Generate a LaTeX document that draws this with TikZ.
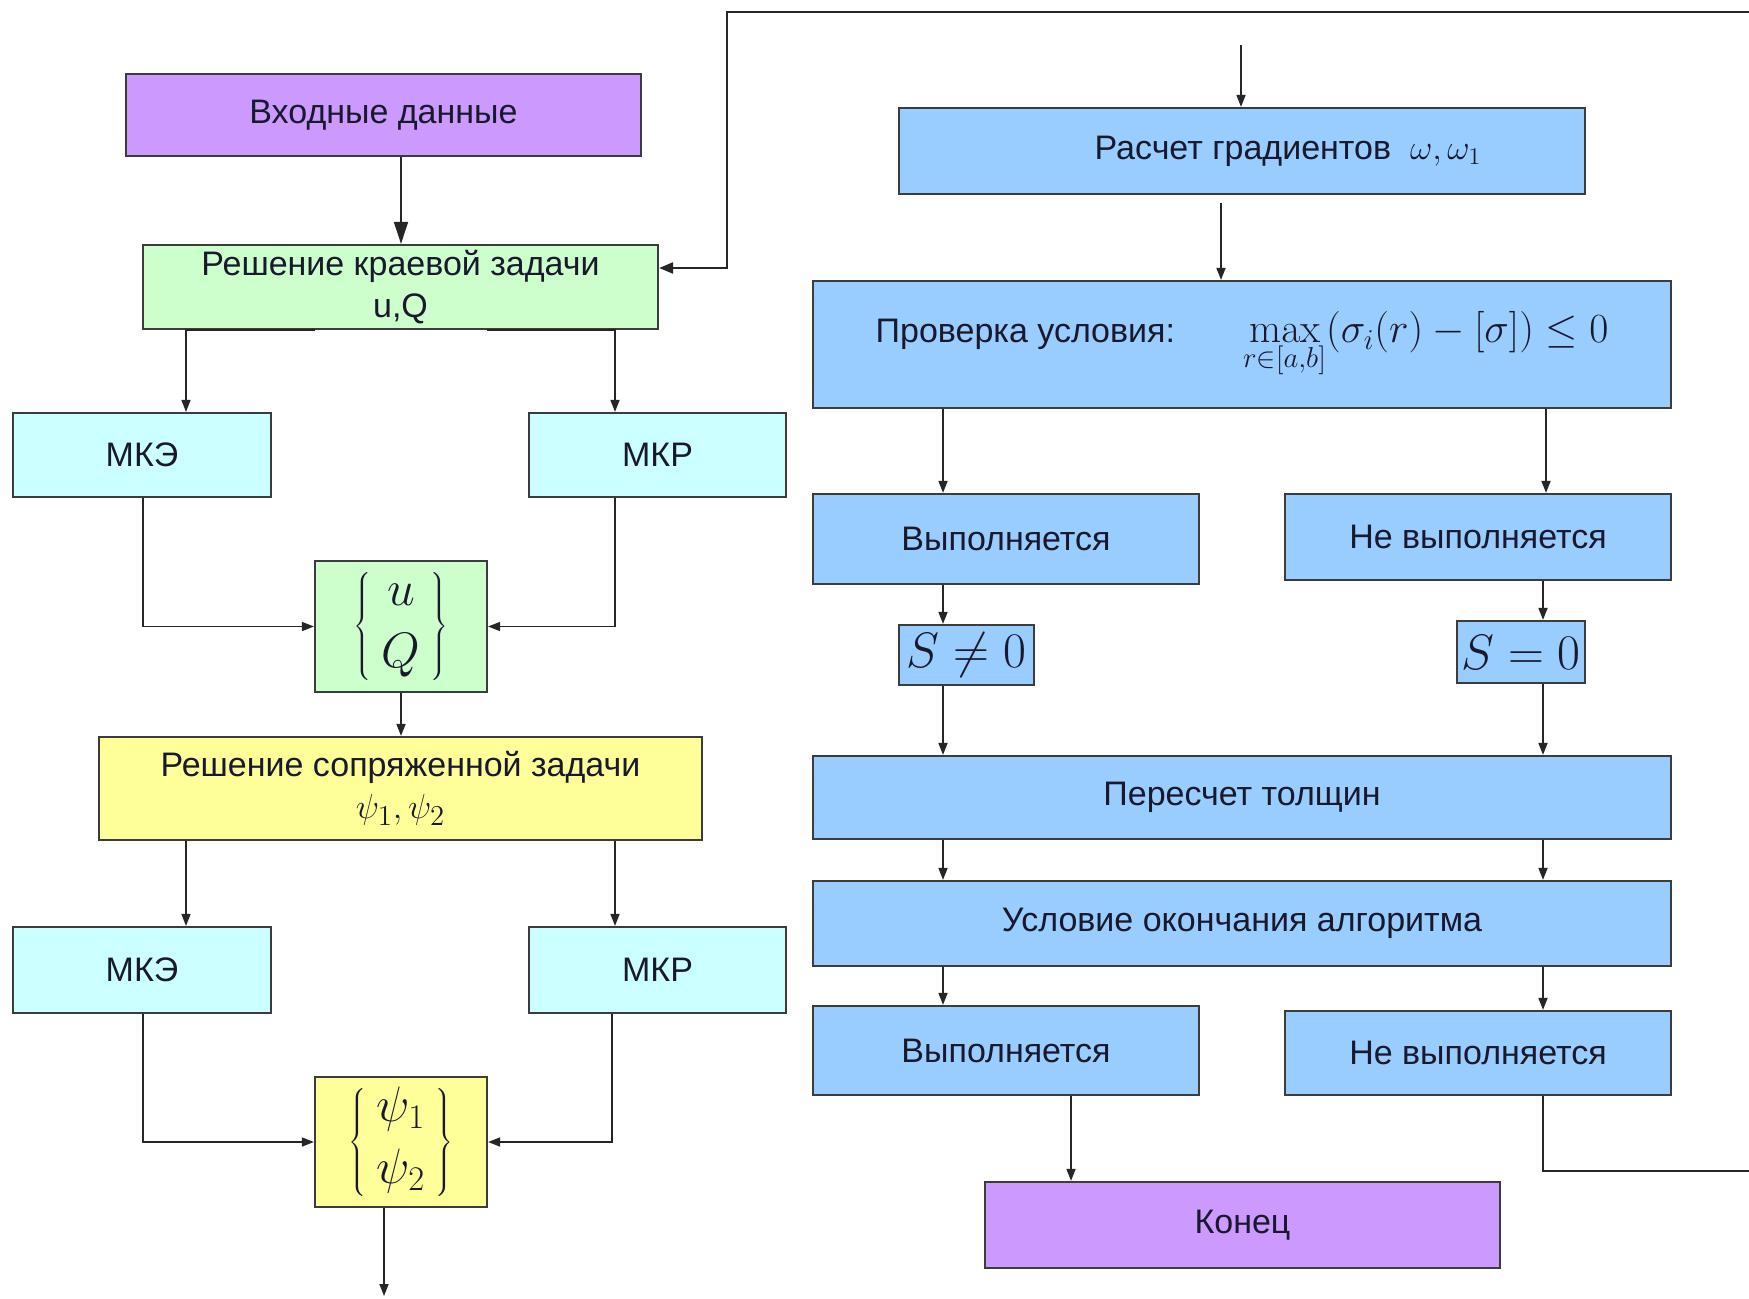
\documentclass[tikz,border=0pt]{standalone}
\usepackage[no-math]{fontspec}
\setmainfont{Liberation Sans}
\usetikzlibrary{arrows.meta}
\definecolor{cpurple}{RGB}{204,153,255}
\definecolor{cgreen}{RGB}{204,255,204}
\definecolor{ccyan}{RGB}{204,255,255}
\definecolor{cyellow}{RGB}{255,255,153}
\definecolor{cblue}{RGB}{153,204,255}
\definecolor{cborder}{RGB}{60,60,60}
\definecolor{ctext}{RGB}{25,25,45}
\begin{document}
\begin{tikzpicture}[x=0.5pt,y=-0.5pt,
  box/.style={draw=cborder, line width=1.1pt, inner sep=0pt, align=center,
    font=\fontsize{17}{21}\selectfont, text=ctext},
  con/.style={draw=black!85, line width=0.8pt, -{Triangle[length=6pt,width=4.5pt]}},
  bigcon/.style={draw=black!85, line width=0.8pt, -{Triangle[length=11pt,width=7pt]}},
  fb/.style={draw=black!85, line width=1.2pt, -{Triangle[length=7pt,width=5.5pt]}},
  mathbig/.style={font=\fontsize{25}{25}\selectfont}]
\useasboundingbox (0,0) rectangle (1749,1299);
\fill[white] (0,0) rectangle (1749,1299);
% left column
\node[box,fill=cpurple,minimum width=257.5pt,minimum height=41pt] (inp) at (383.5,115) {Входные данные};
\node[box,fill=cgreen,minimum width=257.5pt,minimum height=42pt] (rk) at (400.5,287) {Решение краевой задачи\\u,Q};
\node[box,fill=ccyan,minimum width=129pt,minimum height=42pt] (mke1) at (142,455) {МКЭ};
\node[box,fill=ccyan,minimum width=128.5pt,minimum height=42pt] (mkr1) at (657.5,455) {МКР};
\node[box,fill=cgreen,minimum width=86pt,minimum height=65.5pt,mathbig] (uq) at (401,626.5) {$\left\{\begin{array}{c}u\\[6pt]Q\end{array}\right\}$};
\node[box,fill=cyellow,minimum width=301.5pt,minimum height=51.5pt] (sz) at (400.5,788.5) {Решение сопряженной задачи\\{\fontsize{19}{19}\selectfont$\psi_1,\psi_2$}};
\node[box,fill=ccyan,minimum width=129pt,minimum height=43pt] (mke2) at (142,970) {МКЭ};
\node[box,fill=ccyan,minimum width=128.5pt,minimum height=43pt] (mkr2) at (657.5,970) {МКР};
\node[box,fill=cyellow,minimum width=86pt,minimum height=65pt,mathbig] (psi) at (401,1142) {$\left\{\begin{array}{c}\psi_1\\[6pt]\psi_2\end{array}\right\}$};
% right column
\node[box,fill=cblue,minimum width=343pt,minimum height=43pt] (rg) at (1242,151) {\hspace*{46pt}Расчет градиентов\ \ $\omega,\omega_1$};
\node[box,fill=cblue,minimum width=429pt,minimum height=63.5pt] (pr) at (1242,344.5) {Проверка условия:\hspace{34pt}{\fontsize{20}{20}\selectfont$\max\limits_{r\in[a,b]}\bigl(\sigma_i(r)-[\sigma]\bigr)\le0$}};
\node[box,fill=cblue,minimum width=193pt,minimum height=45pt] (v1) at (1006,539) {Выполняется};
\node[box,fill=cblue,minimum width=193pt,minimum height=43pt] (nv1) at (1478,537) {Не выполняется};
\node[box,fill=cblue,minimum width=67.5pt,minimum height=30pt,mathbig] (s1) at (966.5,655) {$S\neq0$};
\node[box,fill=cblue,minimum width=64pt,minimum height=31pt,mathbig] (s0) at (1521,652) {$S=0$};
\node[box,fill=cblue,minimum width=429pt,minimum height=41.5pt] (pt) at (1242,797.5) {Пересчет толщин};
\node[box,fill=cblue,minimum width=429pt,minimum height=42.5pt] (uo) at (1242,923.5) {Условие окончания алгоритма};
\node[box,fill=cblue,minimum width=193pt,minimum height=44.5pt] (v2) at (1006,1050.5) {Выполняется};
\node[box,fill=cblue,minimum width=193pt,minimum height=42pt] (nv2) at (1478,1053) {Не выполняется};
\node[box,fill=cpurple,minimum width=257.5pt,minimum height=43pt] (end) at (1242.5,1225) {Конец};
% connectors left
\draw[bigcon] (inp.south -| 401,0) -- (rk.north -| 401,0);
\draw[con] (rk.south -| 315,0) -- (rk.south -| 186,0) -- (mke1.north -| 186,0);
\draw[con] (rk.south -| 487,0) -- (rk.south -| 615,0) -- (mkr1.north -| 615,0);
\draw[con] (mke1.south -| 143,0) |- (uq.west);
\draw[con] (mkr1.south -| 615,0) |- (uq.east);
\draw[con] (uq.south) -- (uq.south |- sz.north);
\draw[con] (sz.south -| 186,0) -- (mke2.north -| 186,0);
\draw[con] (sz.south -| 615,0) -- (mkr2.north -| 615,0);
\draw[con] (mke2.south -| 143,0) |- (psi.west);
\draw[con] (mkr2.south -| 612,0) |- (psi.east);
\coordinate (out) at (384,1296);
\draw[con] (psi.south -| out) -- (out);
% connectors right
\coordinate (topin) at (1241,45);
\draw[con] (topin) -- (rg.north -| topin);
\coordinate (rgb) at (1221,203);
\draw[con] (rgb) -- (rgb |- pr.north);
\draw[con] (pr.south -| 943,0) -- (v1.north -| 943,0);
\draw[con] (pr.south -| 1546,0) -- (nv1.north -| 1546,0);
\draw[con] (v1.south -| 943,0) -- (s1.north -| 943,0);
\draw[con] (nv1.south -| 1543,0) -- (s0.north -| 1543,0);
\draw[con] (s1.south -| 943,0) -- (pt.north -| 943,0);
\draw[con] (s0.south -| 1543,0) -- (pt.north -| 1543,0);
\draw[con] (pt.south -| 943,0) -- (uo.north -| 943,0);
\draw[con] (pt.south -| 1543,0) -- (uo.north -| 1543,0);
\draw[con] (uo.south -| 943,0) -- (v2.north -| 943,0);
\draw[con] (uo.south -| 1543,0) -- (nv2.north -| 1543,0);
\draw[con] (v2.south -| 1071,0) -- (end.north -| 1071,0);
\draw[fb] (nv2.south -| 1543,0) -- (1543,1171) -- (1765,1171) -- (1765,12) -- (727,12) -- (727,268) -- (rk.east |- 0,268);
\end{tikzpicture}
\end{document}
